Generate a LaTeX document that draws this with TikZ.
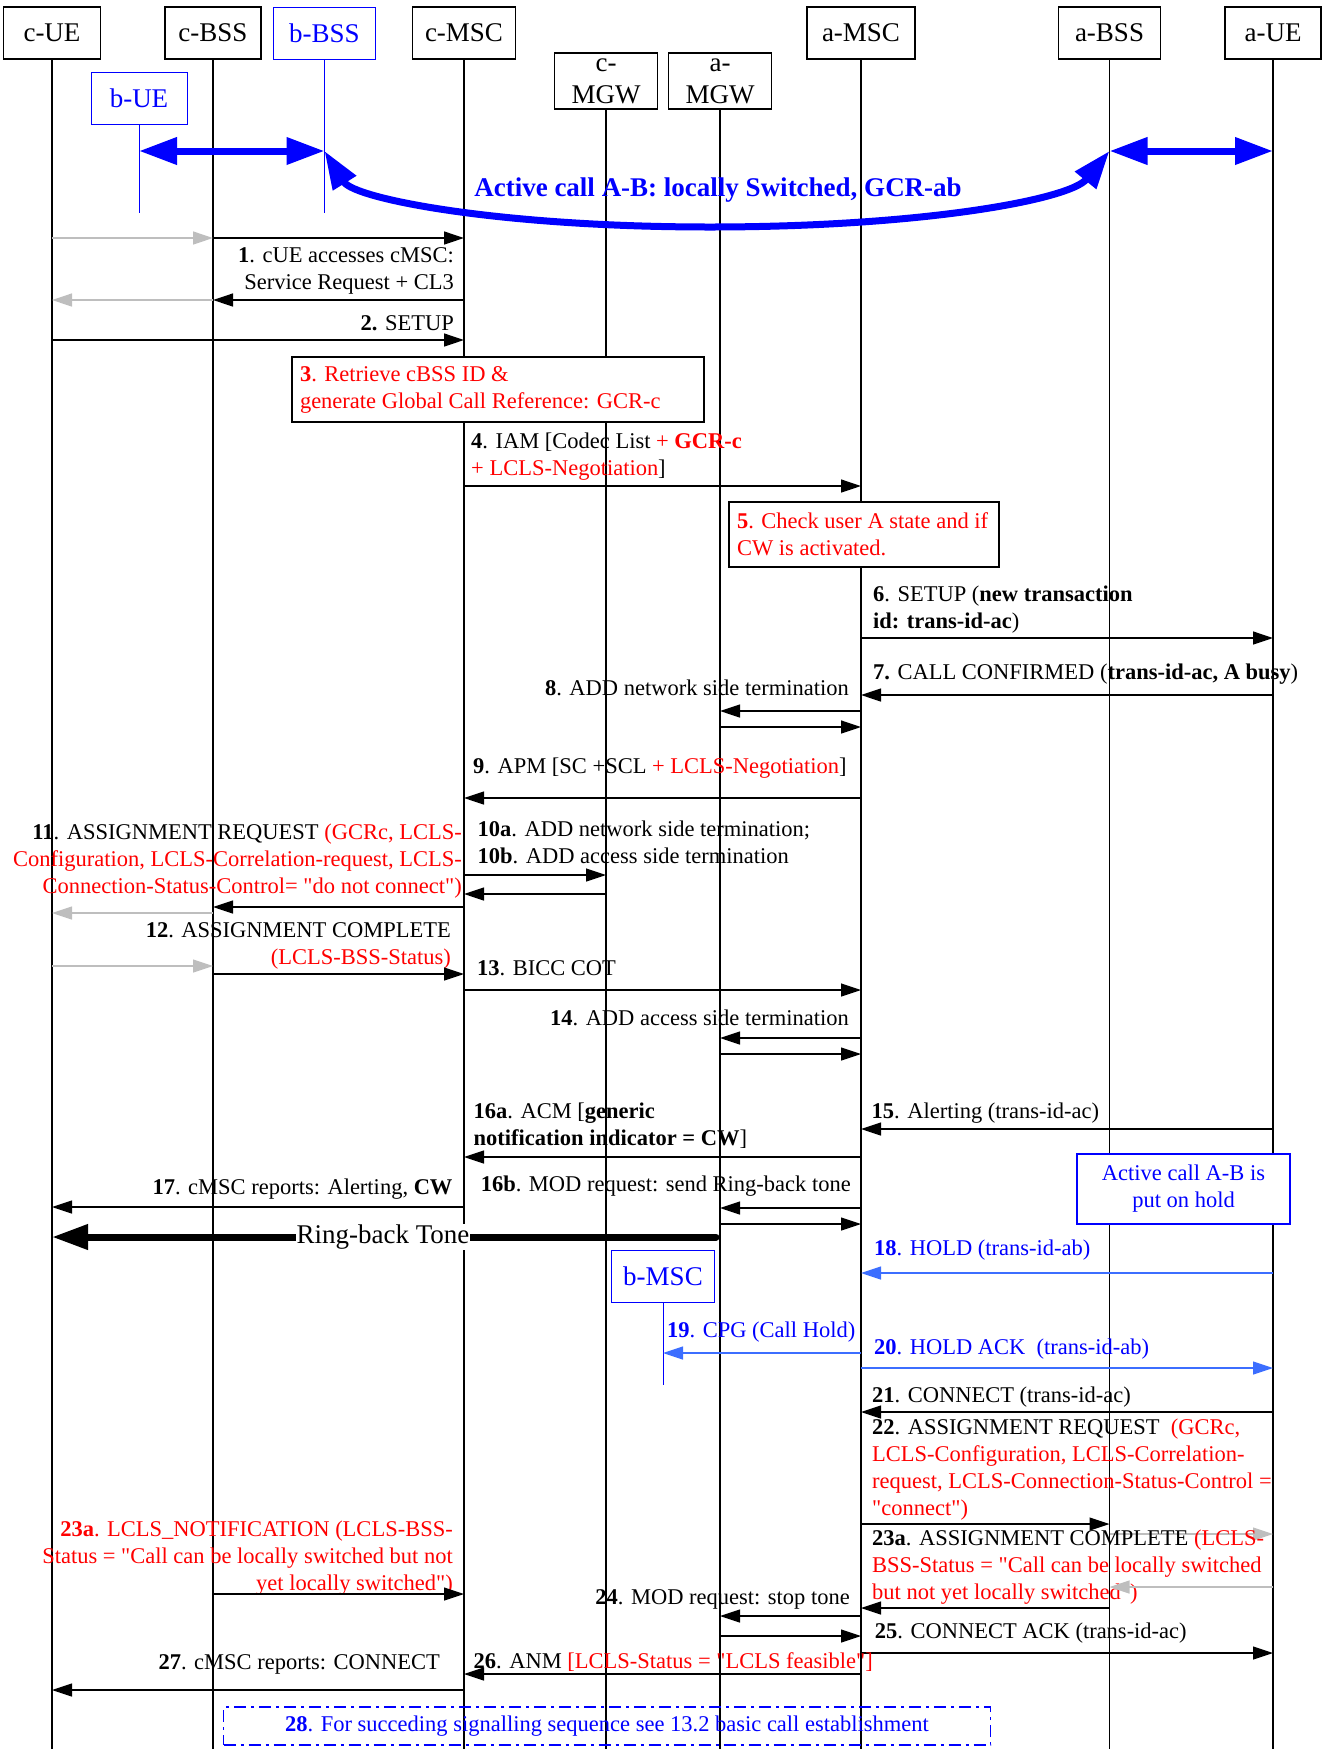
\documentclass[tikz,border=0pt]{standalone}
\usepackage{fontspec}
\setmainfont{Liberation Serif}
\usepackage{tikz}
\usetikzlibrary{arrows.meta}
\usetikzlibrary{positioning,calc}

\definecolor{lclsred}{RGB}{255,0,0}
\definecolor{bblue}{RGB}{0,0,255}
\definecolor{holdblue}{RGB}{60,110,255}
\definecolor{ghost}{RGB}{190,190,190}

\newcommand{\msgfont}{\fontsize{22.5pt}{27pt}\selectfont}
\newcommand{\hdfont}{\fontsize{27pt}{32pt}\selectfont}
\newcommand{\callfont}{\fontsize{27pt}{32pt}\selectfont\bfseries}
\newcommand{\dq}{\textquotedbl}

\tikzset{
	hbox/.style={draw,line width=1.3pt,fill=white,font=\hdfont,align=center,
		minimum height=52pt,inner sep=1pt},
	life/.style={line width=1.3pt},
	msg/.style={-{Triangle[length=20pt,width=13pt]},line width=1.3pt},
	gmsg/.style={msg,ghost},
	hmsg/.style={msg,holdblue},
	lbl/.style={font=\msgfont,inner sep=0pt},
	lft/.style={lbl,anchor=base west,align=left},
	rgt/.style={lbl,anchor=base east,align=right},
	notebox/.style={draw,line width=1.3pt,fill=white,font=\msgfont,align=flush left,
		inner xsep=8pt,inner ysep=0pt},
	bigblue/.style={bblue,line width=7pt,
		{Triangle[length=38pt,width=26pt]}-{Triangle[length=38pt,width=26pt]}}
}

\begin{document}
\begin{tikzpicture}[x=1pt,y=-1pt]
	\useasboundingbox (0,0) rectangle (1330,1749);
	\coordinate (bot) at (0,1749);
	\coordinate (bstop) at (0,213);
	\coordinate (bmstop) at (0,1385);

	% lifeline heads
	\node[hbox,minimum width=97pt] (cUE) at (52,33) {c-UE};
	\node[hbox,minimum width=96pt] (cBSS) at (213,33) {c-BSS};
	\node[hbox,minimum width=102pt,draw=bblue,text=bblue,line width=1pt] (bBSS) at (324.5,33) {b-BSS};
	\node[hbox,minimum width=103pt] (cMSC) at (464,33) {c-MSC};
	\node[hbox,minimum width=103pt,minimum height=56pt] (cMGW) at (606,81) {c-\\MGW};
	\node[hbox,minimum width=103pt,minimum height=56pt] (aMGW) at (720,81) {a-\\MGW};
	\node[hbox,minimum width=108pt] (aMSC) at (861,33) {a-MSC};
	\node[hbox,minimum width=102pt] (aBSS) at (1109.5,33) {a-BSS};
	\node[hbox,minimum width=96pt] (aUE) at (1273,33) {a-UE};
	\node[hbox,minimum width=96pt,draw=bblue,text=bblue,line width=1pt] (bUE) at (139,98) {b-UE};

	% lifelines
	\foreach \n in {cUE,cBSS,cMSC,cMGW,aMGW,aMSC,aBSS,aUE}
		\draw[life] (\n.south) -- (\n |- bot);
	\draw[bblue,line width=1pt] (bUE.south) -- (bUE |- bstop);
	\draw[bblue,line width=1pt] (bBSS.south) -- (bBSS |- bstop);

	% message rows
	\foreach \n/\y in {r0/151,r1/238,r1b/300,r2/340,r4/486,r6/638,r7/695,r8a/711,r8b/727,
		r9/798,r10a/875,r10b/894,r11/907,r11g/913,r12g/966,r12/974,r13/990,
		r14a/1038,r14b/1054,r15/1129,r16a/1157,r16b/1208,r16c/1224,r17/1207,rr/1237,
		r18/1273,r19/1353,r20/1368,r21/1412,r22/1524,r22g/1534,r23g/1587,r23/1608,
		r23l/1594,r24a/1616,r24b/1636,r25/1653,r26/1674,r27/1690}
		\coordinate (\n) at (0,\y);
	\coordinate (curvemid) at (710,227);

	% active call A-B
	\draw[bigblue] (bUE |- r0) -- (bBSS |- r0);
	\draw[bigblue] (aBSS |- r0) -- (aUE |- r0);
	\draw[bigblue] (bBSS |- r0) .. controls +(30,48) and +(-210,0) .. (curvemid)
		.. controls +(210,0) and +(-40,49) .. (aBSS |- r0);
	\node[font=\callfont,text=bblue,inner sep=0pt] (callab) at (718,190) {Active call A-B: locally Switched, GCR-ab};

	% last line of a multi-line label sits on the given base
	\draw[gmsg] (cUE |- r1) -- (cBSS |- r1);
	\draw[msg] (cBSS |- r1) -- (cMSC |- r1);
	\node[rgt] (t1) at (454,289) {\textbf{1}. cUE accesses cMSC:\\Service Request + CL3};
	\draw[msg] (cMSC |- r1b) -- (cBSS |- r1b);
	\draw[gmsg] (cBSS |- r1b) -- (cUE |- r1b);

	\node[rgt] (t2) at (454,330) {\textbf{2.} SETUP};
	\draw[msg] (cUE |- r2) -- (cMSC |- r2);

	\node[notebox,text width=396pt,minimum height=65pt,text=lclsred] (chk3) at (498,389.5)
		{\textbf{3}. Retrieve cBSS ID \&\\generate Global Call Reference: GCR-c};

	\node[lft] (t4) at (471,475) {\textbf{4}. IAM [Codec List {\color{lclsred}+ \textbf{GCR-c}}\\{\color{lclsred}+ LCLS-Negotiation}]};
	\draw[msg] (cMSC |- r4) -- (aMSC |- r4);

	\node[notebox,text width=254pt,minimum height=65pt,text=lclsred] (chk5) at (864,534.5)
		{\textbf{5}. Check user A state and if\\CW is activated.};

	\node[lft] (t6) at (873,628) {\textbf{6}. SETUP (\textbf{new transaction}\\\textbf{id: trans-id-ac})};
	\draw[msg] (aMSC |- r6) -- (aUE |- r6);
	\node[lft] (t7) at (873,679) {\textbf{7.} CALL CONFIRMED (\textbf{trans-id-ac, A busy})};
	\draw[msg] (aUE |- r7) -- (aMSC |- r7);

	\node[rgt] (t8) at (849,695) {\textbf{8}. ADD network side termination};
	\draw[msg] (aMSC |- r8a) -- (aMGW |- r8a);
	\draw[msg] (aMGW |- r8b) -- (aMSC |- r8b);

	\node[lft] (t9) at (473,773) {\textbf{9}. APM [SC +SCL {\color{lclsred}+ LCLS-Negotiation}]};
	\draw[msg] (aMSC |- r9) -- (cMSC |- r9);

	\node[lft] (t10) at (477.5,863) {\textbf{10a}. ADD network side termination;\\\textbf{10b}. ADD access side termination};
	\draw[msg] (cMSC |- r10a) -- (cMGW |- r10a);
	\draw[msg] (cMGW |- r10b) -- (cMSC |- r10b);

	\node[rgt] (t11) at (462,893) {\textbf{11}. ASSIGNMENT REQUEST {\color{lclsred}(GCRc, LCLS-}\\{\color{lclsred}Configuration, LCLS-Correlation-request, LCLS-}\\{\color{lclsred}Connection-Status-Control= \dq do not connect\dq)}};
	\draw[msg] (cMSC |- r11) -- (cBSS |- r11);
	\draw[gmsg] (cBSS |- r11g) -- (cUE |- r11g);

	\node[rgt] (t12) at (451,964) {\textbf{12}. ASSIGNMENT COMPLETE\\{\color{lclsred}(LCLS-BSS-Status)}};
	\draw[gmsg] (cUE |- r12g) -- (cBSS |- r12g);
	\draw[msg] (cBSS |- r12) -- (cMSC |- r12);

	\node[lft] (t13) at (477,975) {\textbf{13}. BICC COT};
	\draw[msg] (cMSC |- r13) -- (aMSC |- r13);

	\node[rgt] (t14) at (849,1025) {\textbf{14}. ADD access side termination};
	\draw[msg] (aMSC |- r14a) -- (aMGW |- r14a);
	\draw[msg] (aMGW |- r14b) -- (aMSC |- r14b);

	\node[lft] (t15) at (871.5,1118) {\textbf{15}. Alerting (trans-id-ac)};
	\draw[msg] (aUE |- r15) -- (aMSC |- r15);

	\node[lft] (t16a) at (473.5,1145) {\textbf{16a}. ACM [\textbf{generic}\\\textbf{notification indicator = CW}]};
	\draw[msg] (aMSC |- r16a) -- (cMSC |- r16a);

	\node[draw=bblue,line width=1.3pt,fill=white,font=\msgfont,text=bblue,align=center,
		minimum width=213pt,minimum height=70pt,inner sep=0pt] (onhold) at (1183.5,1189)
		{Active call A-B is\\put on hold};

	\node[rgt] (t16b) at (851,1191) {\textbf{16b}. MOD request: send Ring-back tone};
	\draw[msg] (aMSC |- r16b) -- (aMGW |- r16b);
	\draw[msg] (aMGW |- r16c) -- (aMSC |- r16c);

	\node[rgt] (t17) at (452.7,1194) {\textbf{17}. cMSC reports: Alerting, \textbf{CW}};
	\draw[msg] (cMSC |- r17) -- (cUE |- r17);

	% ring-back tone
	\draw[line width=7pt,line cap=round,shorten <=4pt,-{Triangle[length=36pt,width=24pt]}]
		(aMGW |- rr) -- (cUE |- rr);
	\node[font=\hdfont,fill=white,inner sep=1pt] (rbt) at (383,1237) {Ring-back Tone};

	\node[hbox,minimum width=103pt,draw=bblue,text=bblue,line width=1pt] (bMSC) at (663,1276) {b-MSC};
	\draw[bblue,line width=1pt] (bMSC.south) -- (bMSC |- bmstop);

	\node[lft,text=bblue] (t18) at (874,1255) {\textbf{18}. HOLD (trans-id-ab)};
	\draw[hmsg] (aUE |- r18) -- (aMSC |- r18);
	\node[lft,text=bblue] (t19) at (667,1337) {\textbf{19}. CPG (Call Hold)};
	\draw[hmsg] (aMSC |- r19) -- (bMSC |- r19);
	\node[lft,text=bblue] (t20) at (874,1354) {\textbf{20}. HOLD ACK\ \ (trans-id-ab)};
	\draw[hmsg] (aMSC |- r20) -- (aUE |- r20);

	\node[lft] (t21) at (872,1402) {\textbf{21}. CONNECT (trans-id-ac)};
	\draw[msg] (aUE |- r21) -- (aMSC |- r21);

	\node[lft] (t22) at (872,1515) {\textbf{22}. ASSIGNMENT REQUEST\ \ {\color{lclsred}(GCRc,}\\{\color{lclsred}LCLS-Configuration, LCLS-Correlation-}\\{\color{lclsred}request, LCLS-Connection-Status-Control =}\\{\color{lclsred}\dq connect\dq)}};
	\draw[msg] (aMSC |- r22) -- (aBSS |- r22);
	\draw[gmsg] (aBSS |- r22g) -- (aUE |- r22g);

	\node[lft] (t23r) at (872,1599) {\textbf{23a}. ASSIGNMENT COMPLETE {\color{lclsred}(LCLS-}\\{\color{lclsred}BSS-Status = \dq Call can be locally switched}\\{\color{lclsred}but not yet locally switched\dq)}};
	\draw[gmsg] (aUE |- r23g) -- (aBSS |- r23g);
	\draw[msg] (aBSS |- r23) -- (aMSC |- r23);

	\node[rgt,text=lclsred] (t23l) at (453,1590) {\textbf{23a}. LCLS\_NOTIFICATION (LCLS-BSS-\\Status = \dq Call can be locally switched but not\\yet locally switched\dq)};
	\draw[msg] (cBSS |- r23l) -- (cMSC |- r23l);

	\node[rgt] (t24) at (850,1604) {\textbf{24}. MOD request: stop tone};
	\draw[msg] (aMSC |- r24a) -- (aMGW |- r24a);
	\draw[msg] (aMGW |- r24b) -- (aMSC |- r24b);

	\node[lft] (t25) at (874.7,1638) {\textbf{25}. CONNECT ACK (trans-id-ac)};
	\draw[msg] (aMSC |- r25) -- (aUE |- r25);

	\node[lft] (t26) at (473.5,1668) {\textbf{26}. ANM {\color{lclsred}[LCLS-Status = \dq LCLS feasible\dq]}};
	\draw[msg] (aMSC |- r26) -- (cMSC |- r26);

	\node[rgt] (t27) at (440,1669) {\textbf{27}. cMSC reports: CONNECT};
	\draw[msg] (cMSC |- r27) -- (cUE |- r27);

	\node[draw=bblue,line width=1.3pt,dash pattern=on 12pt off 5pt on 3pt off 5pt,
		font=\msgfont,text=bblue,minimum width=767pt,minimum height=38pt,inner sep=0pt] (see28) at (607,1726)
		{\textbf{28}. For succeding signalling sequence see 13.2 basic call establishment};
\end{tikzpicture}
\end{document}
